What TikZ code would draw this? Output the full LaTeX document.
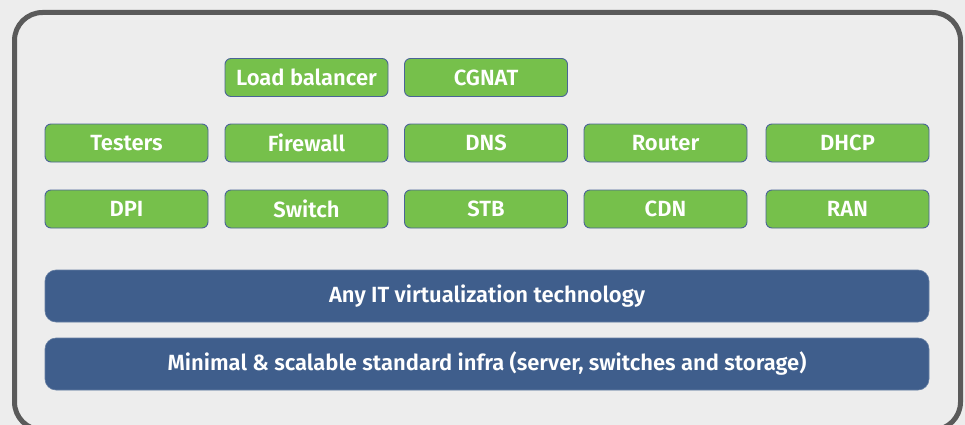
\documentclass[tikz,border=0pt]{standalone}
\usepackage{fontspec}
\setmainfont{Fira Sans}[BoldFont={Fira Sans SemiBold}]
\definecolor{vnfgreen}{HTML}{76C04B}
\definecolor{vnfedge}{HTML}{4A6496}
\definecolor{infrablue}{HTML}{3F5E8C}
\definecolor{panelgray}{HTML}{EDEDED}
\definecolor{framegray}{HTML}{5A5A5A}
\begin{document}
\begin{tikzpicture}[x=1pt,y=-1pt]
    \tikzstyle{vnf}=[rectangle,rounded corners=6pt,fill=vnfgreen,draw=vnfedge,line width=0.9pt,
                     minimum width=163pt,minimum height=38pt,inner sep=0pt,text=white,font=\bfseries\fontsize{22}{24}\selectfont]
    \tikzstyle{layer}=[rectangle,rounded corners=11pt,fill=infrablue,draw=infrablue!80!white,line width=0.6pt,
                       minimum width=884pt,minimum height=52pt,inner sep=0pt,text=white,font=\bfseries\fontsize{22}{24}\selectfont]
    \fill[panelgray] (0,0) rectangle (965,425);
    \useasboundingbox (0,0) rectangle (965,425);
    \draw[draw=framegray, line width=5pt, rounded corners=28pt] (14.5,12.5) rectangle (960.5,430);

    % functions on top
    \node[vnf] (lb)    at (306.5,77.5) {Load balancer};
    \node[vnf] (cgnat) at (486,77.5)   {CGNAT};

    \node[vnf] (testers)  at (126.5,143) {Testers};
    \node[vnf] (firewall) at (306.5,143) {Firewall};
    \node[vnf] (dns)      at (486,143)   {DNS};
    \node[vnf] (router)   at (665.5,143) {Router};
    \node[vnf] (dhcp)     at (847.5,143) {DHCP};

    \node[vnf] (dpi)    at (126.5,209) {DPI};
    \node[vnf] (switch) at (306.5,209) {Switch};
    \node[vnf] (stb)    at (486,209)   {STB};
    \node[vnf] (cdn)    at (665.5,209) {CDN};
    \node[vnf] (ran)    at (847.5,209) {RAN};

    % shared layers below
    \node[layer] (virt)  at (487,296) {Any IT virtualization technology};
    \node[layer] (infra) at (487,364) {Minimal \& scalable standard infra (server, switches and storage)};

\end{tikzpicture}
\end{document}
